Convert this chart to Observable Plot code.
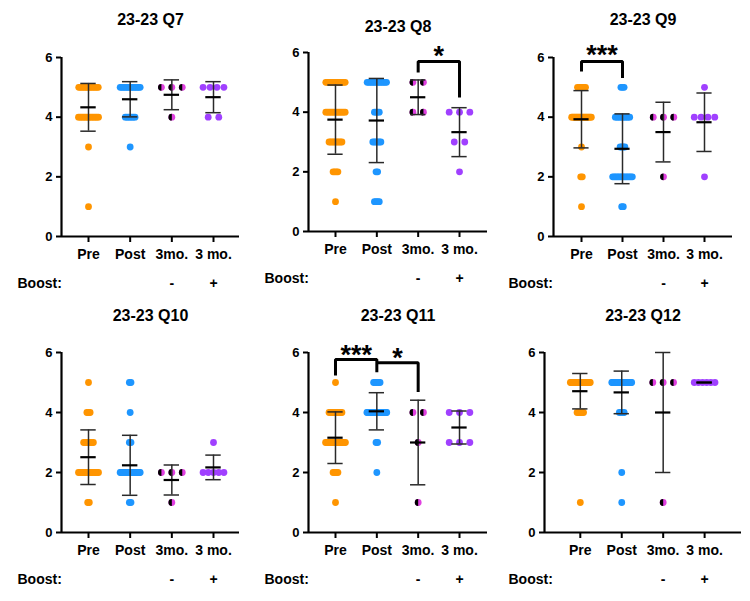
<!DOCTYPE html>
<html>
<head>
<meta charset="utf-8">
<script src="https://cdn.jsdelivr.net/npm/d3@7"></script>
<script src="https://cdn.jsdelivr.net/npm/@observablehq/plot@0.6"></script>
<style>
  html, body { margin: 0; padding: 0; background: #fff; }
  #wrap { position: relative; width: 750px; height: 601px; overflow: hidden; }
  #wrap svg { position: absolute; }
</style>
</head>
<body>
<div id="wrap"></div>
<script>
// ---------- data ----------
const scoreLevels = [5, 4, 3, 2, 1];              // Likert answer levels (rows of counts)
const groupLabels = ["Pre", "Post", "3mo.", "3 mo."];
const boostLabels = ["", "", "-", "+"];
const yTicks = [0, 2, 4, 6];
const panelTitles = ["23-23 Q7", "23-23 Q8", "23-23 Q9", "23-23 Q10", "23-23 Q11", "23-23 Q12"];

// counts of answers at 5,4,3,2,1 for Pre, Post, 3mo.(-), 3 mo.(+)
const q7Counts  = [[13,14,1,0,1], [14,7,1,0,0], [3,1,0,0,0], [4,2,0,0,0]];
const q7Means   = [4.33, 4.60, 4.75, 4.67];
const q7SDs     = [0.80, 0.59, 0.50, 0.52];

const q8Counts  = [[13,13,9,4,1], [13,4,6,2,4], [2,2,0,0,0], [0,3,2,1,0]];
const q8Means   = [3.75, 3.72, 4.50, 3.33];
const q8SDs     = [1.16, 1.41, 0.58, 0.82];

const q9Counts  = [[6,19,1,2,1], [3,10,4,14,2], [0,3,0,1,0], [1,4,0,1,0]];
const q9Means   = [3.93, 2.94, 3.50, 3.83];
const q9SDs     = [0.96, 1.17, 1.00, 0.98];

const q10Counts = [[1,3,7,15,2], [2,1,2,24,2], [0,0,0,3,1], [0,0,1,5,0]];
const q10Means  = [2.51, 2.24, 1.75, 2.17];
const q10SDs    = [0.91, 1.00, 0.50, 0.41];

const q11Counts = [[1,9,15,4,1], [5,25,2,1,0], [0,2,1,0,1], [0,3,3,0,0]];
const q11Means  = [3.16, 4.04, 3.00, 3.50];
const q11SDs    = [0.86, 0.62, 1.41, 0.55];

const q12Counts = [[24,5,0,0,1], [26,4,0,1,1], [3,0,0,0,1], [6,0,0,0,0]];
const q12Means  = [4.71, 4.67, 4.00, 5.00];
const q12SDs    = [0.59, 0.71, 2.00, 0.00];

// significance brackets: group indices, bracket top, leg ends, label and label height
const q8Brackets  = [{from: 2, to: 3, top: 5.70, leftEnd: 5.33, rightEnd: 4.49, stars: "*", starY: 6.07}];
const q9Brackets  = [{from: 0, to: 1, top: 5.87, leftEnd: 5.53, rightEnd: 5.31, stars: "***", starY: 6.27}];
const q11Brackets = [
  {from: 0, to: 1, top: 5.77, leftEnd: 5.23, rightEnd: 5.34, stars: "***", starY: 6.12},
  {from: 1, to: 2, top: 5.66, leftEnd: 5.66, rightEnd: 4.68, stars: "*", starY: 6.02}
];
const noBrackets = [];

// ---------- styles & layout ----------
const groupColors = ["#FF9500", "#1E96FF", "#E040E0", "#A040FF"];
const FONT = "'Liberation Sans', Arial, Helvetica, sans-serif";

const layouts = [
  {left: 0,   top: 0,   h: 300, mT: 57, mB: 64, mL: 61, mR: 11, xd: [-0.648, 3.624], titleDy: -43.7, boostDx: -44},
  {left: 250, top: 0,   h: 300, mT: 52, mB: 69, mL: 58, mR: 13, xd: [-0.653, 3.677], titleDy: -32,   boostDx: -44},
  {left: 500, top: 0,   h: 300, mT: 57, mB: 64, mL: 53, mR: 18, xd: [-0.683, 3.683], titleDy: -43.7, boostDx: -45},
  {left: 0,   top: 300, h: 301, mT: 52, mB: 69, mL: 61, mR: 11, xd: [-0.648, 3.624], titleDy: -42.7, boostDx: -44},
  {left: 250, top: 300, h: 301, mT: 52, mB: 69, mL: 58, mR: 13, xd: [-0.653, 3.677], titleDy: -42.7, boostDx: -44},
  {left: 500, top: 300, h: 301, mT: 52, mB: 69, mL: 44, mR: 9,  xd: [-0.864, 3.890], titleDy: -42.7, boostDx: -36}
];

const panels = [
  {counts: q7Counts,  means: q7Means,  sds: q7SDs,  brackets: noBrackets},
  {counts: q8Counts,  means: q8Means,  sds: q8SDs,  brackets: q8Brackets},
  {counts: q9Counts,  means: q9Means,  sds: q9SDs,  brackets: q9Brackets},
  {counts: q10Counts, means: q10Means, sds: q10SDs, brackets: noBrackets},
  {counts: q11Counts, means: q11Means, sds: q11SDs, brackets: q11Brackets},
  {counts: q12Counts, means: q12Means, sds: q12SDs, brackets: noBrackets}
];

// left half of a disc (the black half of the 3mo. markers)
const halfLeft = {
  draw(context, size) {
    const r = Math.sqrt(size / Math.PI);
    context.moveTo(0, -r);
    context.arc(0, 0, r, -Math.PI / 2, Math.PI / 2, true);
    context.closePath();
  }
};

// spread identical answers sideways like a scatter dot plot
function spreadDots(counts) {
  const out = [];
  counts.forEach((row, g) => {
    const n = d3.sum(row);
    row.forEach((k, si) => {
      if (!k) return;
      const maxStep = n <= 10 ? 0.254 : 0.039;
      const span = n <= 10 ? 0.5 : 0.48;
      const step = k > 1 ? Math.min(maxStep, span / (k - 1)) : 0;
      for (let j = 0; j < k; j++) out.push({g, x: g + (j - (k - 1) / 2) * step, y: scoreLevels[si]});
    });
  });
  return out;
}

function bracketPoints(brackets) {
  const pts = [];
  brackets.forEach((b, id) => {
    pts.push({id, x: b.from, y: b.leftEnd});
    pts.push({id, x: b.from, y: b.top});
    pts.push({id, x: b.to, y: b.top});
    pts.push({id, x: b.to, y: b.rightEnd});
  });
  return pts;
}

const wrap = document.getElementById("wrap");

panels.forEach((p, i) => {
  const L = layouts[i];
  const dots = spreadDots(p.counts);
  const stats = p.means.map((m, g) => ({g, mean: m, lo: m - p.sds[g], hi: m + p.sds[g]}));
  const capHalf = 0.185;
  const barColor = "#2a2a2a";

  const svg = Plot.plot({
    width: 250,
    height: L.h,
    marginTop: L.mT, marginBottom: L.mB, marginLeft: L.mL, marginRight: L.mR,
    x: {domain: L.xd, label: null},
    y: {domain: [0, 6], label: null},
    style: {fontFamily: FONT, fontWeight: "bold", fontSize: "13px", color: "#000", background: "transparent", overflow: "visible"},
    marks: [
      // dots
      Plot.dot(dots.filter(d => d.g === 0), {x: "x", y: "y", r: 3.4, fill: groupColors[0]}),
      Plot.dot(dots.filter(d => d.g === 1), {x: "x", y: "y", r: 3.4, fill: groupColors[1]}),
      Plot.dot(dots.filter(d => d.g === 3), {x: "x", y: "y", r: 3.4, fill: groupColors[3]}),
      Plot.dot(dots.filter(d => d.g === 2), {x: "x", y: "y", r: 3.4, fill: groupColors[2]}),
      Plot.dot(dots.filter(d => d.g === 2), {x: "x", y: "y", r: 3.4, fill: "#000", symbol: halfLeft}),
      // mean ± SD
      Plot.ruleX(stats, {x: "g", y1: "lo", y2: "hi", stroke: barColor, strokeWidth: 1.5}),
      Plot.ruleY(stats, {y: "hi", x1: d => d.g - capHalf, x2: d => d.g + capHalf, stroke: barColor, strokeWidth: 1.5}),
      Plot.ruleY(stats, {y: "lo", x1: d => d.g - capHalf, x2: d => d.g + capHalf, stroke: barColor, strokeWidth: 1.5}),
      Plot.ruleY(stats, {y: "mean", x1: d => d.g - capHalf, x2: d => d.g + capHalf, stroke: "#000", strokeWidth: 2.2}),
      // axes
      Plot.ruleX([L.xd[0]], {y1: 0, y2: 6, stroke: "#000", strokeWidth: 2.2}),
      Plot.ruleY([0], {stroke: "#000", strokeWidth: 2.2}),
      Plot.axisY({ticks: yTicks, tickFormat: d => String(d), tickSize: 5, tickPadding: 4, strokeWidth: 2, fontSize: 13, fontWeight: "bold", label: null}),
      Plot.axisX({ticks: [0, 1, 2, 3], tickFormat: d => groupLabels[d], tickSize: 6, tickPadding: 6.5, strokeWidth: 2, fontSize: 14, fontWeight: "bold", label: null}),
      // boost row
      Plot.text([0, 1, 2, 3], {x: d => d, text: d => boostLabels[d], frameAnchor: "bottom", dy: 41.5, lineAnchor: "top", fontSize: 14, fontWeight: "bold"}),
      Plot.text(["Boost:"], {text: d => d, frameAnchor: "bottom-left", dx: L.boostDx, dy: 41.5, textAnchor: "start", lineAnchor: "top", fontSize: 14, fontWeight: "bold"}),
      // title
      Plot.text([panelTitles[i]], {text: d => d, frameAnchor: "top", dy: L.titleDy, lineAnchor: "top", fontSize: 16, fontWeight: "bold"}),
      // significance
      Plot.line(bracketPoints(p.brackets), {x: "x", y: "y", z: "id", stroke: "#000", strokeWidth: 3, strokeLinejoin: "miter", strokeLinecap: "butt"}),
      Plot.text(p.brackets, {x: d => (d.from + d.to) / 2, y: "starY", text: "stars", fontSize: 27, fontWeight: "bold", lineAnchor: "middle", dy: 6})
    ]
  });
  svg.style.left = L.left + "px";
  svg.style.top = L.top + "px";
  wrap.appendChild(svg);
});
</script>
</body>
</html>
